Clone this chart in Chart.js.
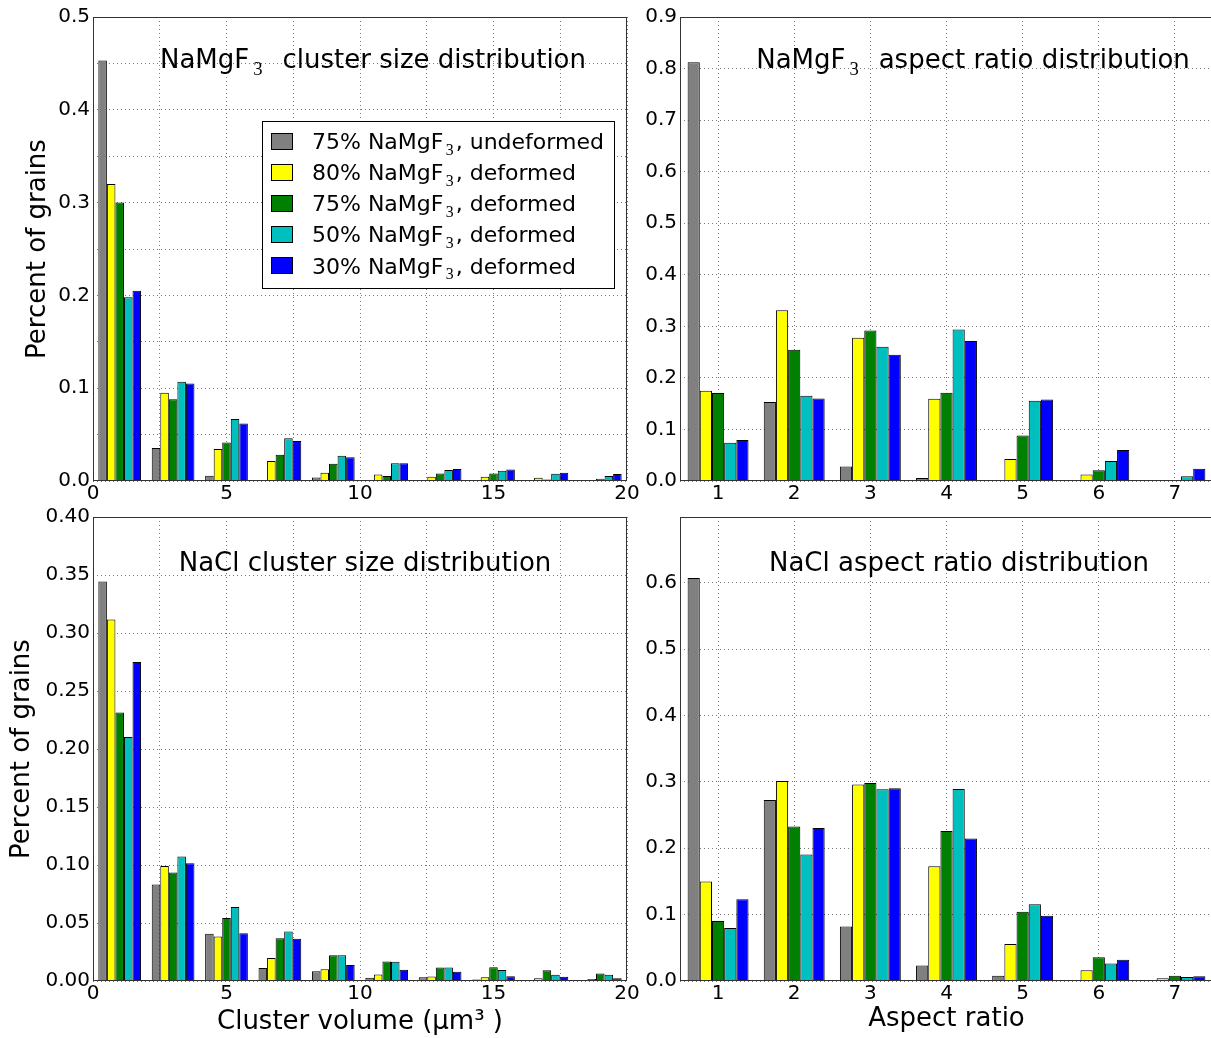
<!DOCTYPE html>
<html>
<head>
<meta charset="utf-8">
<script src="https://cdn.jsdelivr.net/npm/chart.js@4.4.0/dist/chart.umd.min.js"></script>
<style>
html,body{margin:0;padding:0;background:#fff;overflow:hidden;width:1211px;height:1038px;position:relative;}
canvas{position:absolute;left:0;top:0;}
</style>
</head>
<body>
<canvas id="c1" width="1230" height="1038" style="width:1230px;height:1038px"></canvas>
<canvas id="c2" width="1230" height="1038" style="width:1230px;height:1038px"></canvas>
<canvas id="c3" width="1230" height="1038" style="width:1230px;height:1038px"></canvas>
<canvas id="c4" width="1230" height="1038" style="width:1230px;height:1038px"></canvas>
<script>
// ---------------- DATA ----------------
const sizeBins = [1, 3, 5, 7, 9, 11, 13, 15, 17, 19];   // centres of 2 µm³ bins
const ratioBins = [1, 2, 3, 4, 5, 6, 7];

const seriesNames = ['75% NaMgF_3, undeformed', '80% NaMgF_3, deformed', '75% NaMgF_3, deformed',
                     '50% NaMgF_3, deformed', '30% NaMgF_3, deformed'];
const seriesColors = ['#808080', '#ffff00', '#008000', '#00bfbf', '#0000ff'];

// NaMgF3 cluster size distribution
const mgSize75u = [0.453, 0.0355, 0.0057, 0, 0.0039, 0.0012, 0, 0, 0, 0.0005];
const mgSize80d = [0.320, 0.095, 0.0345, 0.0215, 0.009, 0.0069, 0.0047, 0.0047, 0.0035, 0.001];
const mgSize75d = [0.300, 0.088, 0.0414, 0.0284, 0.0187, 0.0054, 0.008, 0.0082, 0.0017, 0.0025];
const mgSize50d = [0.198, 0.107, 0.0669, 0.046, 0.0273, 0.019, 0.0119, 0.011, 0.0079, 0.0055];
const mgSize30d = [0.205, 0.105, 0.062, 0.043, 0.0255, 0.019, 0.0129, 0.0125, 0.0089, 0.0075];

// NaMgF3 aspect ratio distribution
const mgRatio75u = [0.812, 0.153, 0.028, 0.006, 0.001, 0, 0.001];
const mgRatio80d = [0.175, 0.331, 0.278, 0.1595, 0.0428, 0.0124, 0.002];
const mgRatio75d = [0.1706, 0.2548, 0.2917, 0.171, 0.0883, 0.0208, 0.001];
const mgRatio50d = [0.074, 0.1654, 0.2606, 0.2937, 0.1556, 0.039, 0.0091];
const mgRatio30d = [0.0797, 0.160, 0.245, 0.2717, 0.1583, 0.0603, 0.024];

// NaCl cluster size distribution
const naSize75u = [0.3445, 0.0831, 0.0407, 0.0113, 0.0083, 0.0027, 0.0033, 0.0012, 0.0006, 0.0003];
const naSize80d = [0.3116, 0.0991, 0.0383, 0.0199, 0.0101, 0.0056, 0.0039, 0.0033, 0.0024, 0.0018];
const naSize75d = [0.2315, 0.0935, 0.0543, 0.0368, 0.0223, 0.0169, 0.0116, 0.0119, 0.0092, 0.0065];
const naSize50d = [0.2104, 0.1074, 0.0638, 0.0427, 0.0223, 0.0166, 0.0116, 0.0095, 0.0053, 0.0053];
const naSize30d = [0.2751, 0.1015, 0.0412, 0.0365, 0.0139, 0.0098, 0.008, 0.0042, 0.0036, 0.0024];

// NaCl aspect ratio distribution
const naRatio75u = [0.607, 0.2727, 0.0821, 0.0234, 0.0078, 0.001, 0.0005];
const naRatio80d = [0.150, 0.3013, 0.2961, 0.173, 0.0556, 0.0161, 0.0042];
const naRatio75d = [0.0904, 0.2327, 0.2982, 0.226, 0.1044, 0.0358, 0.0078];
const naRatio50d = [0.080, 0.1906, 0.2888, 0.2894, 0.1158, 0.0265, 0.0062];
const naRatio30d = [0.1231, 0.2306, 0.2904, 0.2145, 0.0982, 0.0322, 0.0073];

// tick values and labels
const sizeXTicks = [0, 2.5, 5, 7.5, 10, 12.5, 15, 17.5, 20];
const sizeXLabels = ['0', '', '5', '', '10', '', '15', '', '20'];
const ratioXTicks = [1, 2, 3, 4, 5, 6, 7];
const ratioXLabels = ['1', '2', '3', '4', '5', '6', '7'];
const mgSizeYTicks = [0, 0.05, 0.1, 0.15, 0.2, 0.25, 0.3, 0.35, 0.4, 0.45, 0.5];
const mgSizeYLabels = ['0.0', '', '0.1', '', '0.2', '', '0.3', '', '0.4', '', '0.5'];
const mgRatioYTicks = [0, 0.1, 0.2, 0.3, 0.4, 0.5, 0.6, 0.7, 0.8, 0.9];
const mgRatioYLabels = ['0.0', '0.1', '0.2', '0.3', '0.4', '0.5', '0.6', '0.7', '0.8', '0.9'];
const naSizeYTicks = [0, 0.05, 0.1, 0.15, 0.2, 0.25, 0.3, 0.35, 0.4];
const naSizeYLabels = ['0.00', '0.05', '0.10', '0.15', '0.20', '0.25', '0.30', '0.35', '0.40'];
const naRatioYTicks = [0, 0.1, 0.2, 0.3, 0.4, 0.5, 0.6];
const naRatioYLabels = ['0.0', '0.1', '0.2', '0.3', '0.4', '0.5', '0.6'];

// ---------------- DRAWING ----------------
Chart.defaults.font.family = '"DejaVu Sans", sans-serif';
Chart.defaults.color = '#000';
const W = 1230, H = 1038;

function drawRich(ctx, str, x, y, size, align, preGap, postGap) {
  const parts = str.split(/_(\d)/);
  const mainFont = size + 'px "DejaVu Sans"';
  const subFont = (size * 0.72).toFixed(1) + 'px "Liberation Serif"';
  const g1 = size * preGap, g2 = size * postGap;
  const widths = [];
  let total = 0;
  parts.forEach((p, i) => {
    ctx.font = (i % 2) ? subFont : mainFont;
    let w = ctx.measureText(p).width;
    if (i % 2) w += g1 + g2;
    widths.push(w); total += w;
  });
  let cx = align === 'center' ? x - total / 2 : x;
  ctx.textAlign = 'left';
  ctx.textBaseline = 'alphabetic';
  ctx.fillStyle = '#000';
  parts.forEach((p, i) => {
    if (i % 2) { ctx.font = subFont; ctx.fillText(p, cx + g1, y + size * 0.27); }
    else { ctx.font = mainFont; ctx.fillText(p, cx, y); }
    cx += widths[i];
  });
}

const panelDeco = {
  id: 'panelDeco',
  afterDatasetsDraw(chart, args, o) {
    const ctx = chart.ctx, a = chart.chartArea;
    ctx.save();
    ctx.strokeStyle = '#333';
    ctx.lineWidth = 1;
    ctx.strokeRect(a.left + 0.5, a.top + 0.5, a.right - a.left - 1, a.bottom - a.top - 1);
    drawRich(ctx, o.title, a.left + o.titleX, a.top + o.titleY, o.titleSize, 'center', 0.15, 0.45);
    if (o.legend) {
      const L = o.legend;
      const bx = Math.round(a.left + L.x) + 0.5, by = Math.round(a.top + L.y) + 0.5;
      ctx.fillStyle = '#fff';
      ctx.fillRect(bx, by, L.w, L.h);
      ctx.strokeStyle = '#000';
      ctx.strokeRect(bx, by, L.w, L.h);
      chart.data.datasets.forEach((ds, i) => {
        const cy = a.top + L.rowY + i * L.rowGap;
        const sx = Math.round(a.left + L.swX) + 0.5, sy = Math.round(cy - L.swH / 2) + 0.5;
        ctx.fillStyle = ds.backgroundColor;
        ctx.fillRect(sx, sy, L.swW, L.swH);
        ctx.strokeStyle = '#000';
        ctx.strokeRect(sx, sy, L.swW, L.swH);
        drawRich(ctx, L.names[i], a.left + L.textX, cy + L.size * 0.37, L.size, 'left', 0.1, 0.1);
      });
    }
    ctx.restore();
  }
};

function makePanel(id, p) {
  const datasets = p.series.map((vals, i) => ({
    label: seriesNames[i].replace('_3', '₃'),
    data: p.bins.map((b, j) => ({ x: b, y: vals[j] })),
    backgroundColor: seriesColors[i],
    borderColor: '#000',
    borderWidth: 1,
    borderSkipped: 'start',
    categoryPercentage: 0.8,
    barPercentage: 1.0
  }));
  const xAxisH = H - p.area.bottom - p.padBottom;
  return new Chart(document.getElementById(id), {
    type: 'bar',
    data: { datasets },
    plugins: [panelDeco],
    options: {
      responsive: false,
      animation: false,
      events: [],
      layout: { padding: { left: p.padLeft, top: p.area.top, right: W - p.area.right, bottom: p.padBottom } },
      plugins: {
        legend: { display: false },
        tooltip: { enabled: false },
        panelDeco: { title: p.title, titleX: p.titleX, titleY: p.titleY, titleSize: 26, legend: p.legend || null }
      },
      scales: {
        x: {
          type: 'linear', min: p.xMin, max: p.xMax, offset: false,
          grid: { offset: false, color: '#777', lineWidth: 1, drawTicks: false },
          border: { display: false, dash: [1, 3] },
          afterBuildTicks: s => { s.ticks = p.xTicks.map(v => ({ value: v })); },
          afterFit: s => { s.height = xAxisH; },
          ticks: { autoSkip: false, maxRotation: 0, minRotation: 0, padding: 1,
                   font: { size: 20 }, color: '#000', callback: (v, i) => p.xLabels[i] },
          title: p.xTitle ? { display: true, text: p.xTitle, font: { size: 26 }, color: '#000',
                              padding: { top: 0, bottom: p.xTitlePad } } : { display: false }
        },
        y: {
          type: 'linear', min: 0, max: p.yMax,
          grid: { color: '#777', lineWidth: 1, drawTicks: false },
          border: { display: false, dash: [1, 3] },
          afterBuildTicks: s => { s.ticks = p.yTicks.map(v => ({ value: v })); },
          afterFit: s => { s.width = p.area.left - p.padLeft; },
          ticks: { autoSkip: false, padding: 3, font: { size: 20 }, color: '#000',
                   callback: (v, i) => p.yLabels[i] },
          title: p.yTitle ? { display: true, text: 'Percent of grains', font: { size: 26 }, color: '#000',
                              padding: { top: p.yTitlePad, bottom: 0 } } : { display: false }
        }
      }
    }
  });
}

const legendCfg = {
  names: seriesNames, size: 22,
  x: 169.4, y: 104, w: 352, h: 167,
  rowY: 124, rowGap: 31.1,
  swX: 178.4, swW: 21, swH: 16,
  textX: 219
};

makePanel('c1', {
  bins: sizeBins, series: [mgSize75u, mgSize80d, mgSize75d, mgSize50d, mgSize30d],
  xMin: 0, xMax: 20, xTicks: sizeXTicks, xLabels: sizeXLabels,
  yMax: 0.5, yTicks: mgSizeYTicks, yLabels: mgSizeYLabels,
  area: { left: 93, top: 17, right: 627, bottom: 481 }, padLeft: 0, padBottom: 517,
  yTitle: true, yTitlePad: 23,
  title: 'NaMgF_3 cluster size distribution', titleX: 280, titleY: 51.3,
  legend: legendCfg
});

makePanel('c2', {
  bins: ratioBins, series: [mgRatio75u, mgRatio80d, mgRatio75d, mgRatio50d, mgRatio30d],
  xMin: 0.5, xMax: 7.5, xTicks: ratioXTicks, xLabels: ratioXLabels,
  yMax: 0.9, yTicks: mgRatioYTicks, yLabels: mgRatioYLabels,
  area: { left: 680, top: 17, right: 1213, bottom: 481 }, padLeft: 600, padBottom: 517,
  yTitle: false,
  title: 'NaMgF_3 aspect ratio distribution', titleX: 293, titleY: 51.3
});

makePanel('c3', {
  bins: sizeBins, series: [naSize75u, naSize80d, naSize75d, naSize50d, naSize30d],
  xMin: 0, xMax: 20, xTicks: sizeXTicks, xLabels: sizeXLabels,
  yMax: 0.4, yTicks: naSizeYTicks, yLabels: naSizeYLabels,
  area: { left: 93, top: 517, right: 627, bottom: 981 }, padLeft: 0, padBottom: 0,
  yTitle: true, yTitlePad: 7,
  xTitle: 'Cluster volume (μm³ )', xTitlePad: 0,
  title: 'NaCl cluster size distribution', titleX: 272, titleY: 53.5
});

makePanel('c4', {
  bins: ratioBins, series: [naRatio75u, naRatio80d, naRatio75d, naRatio50d, naRatio30d],
  xMin: 0.5, xMax: 7.5, xTicks: ratioXTicks, xLabels: ratioXLabels,
  yMax: 0.699, yTicks: naRatioYTicks, yLabels: naRatioYLabels,
  area: { left: 680, top: 517, right: 1213, bottom: 981 }, padLeft: 600, padBottom: 0,
  yTitle: false,
  xTitle: 'Aspect ratio', xTitlePad: 3,
  title: 'NaCl aspect ratio distribution', titleX: 279, titleY: 53.5
});
</script>
</body>
</html>
